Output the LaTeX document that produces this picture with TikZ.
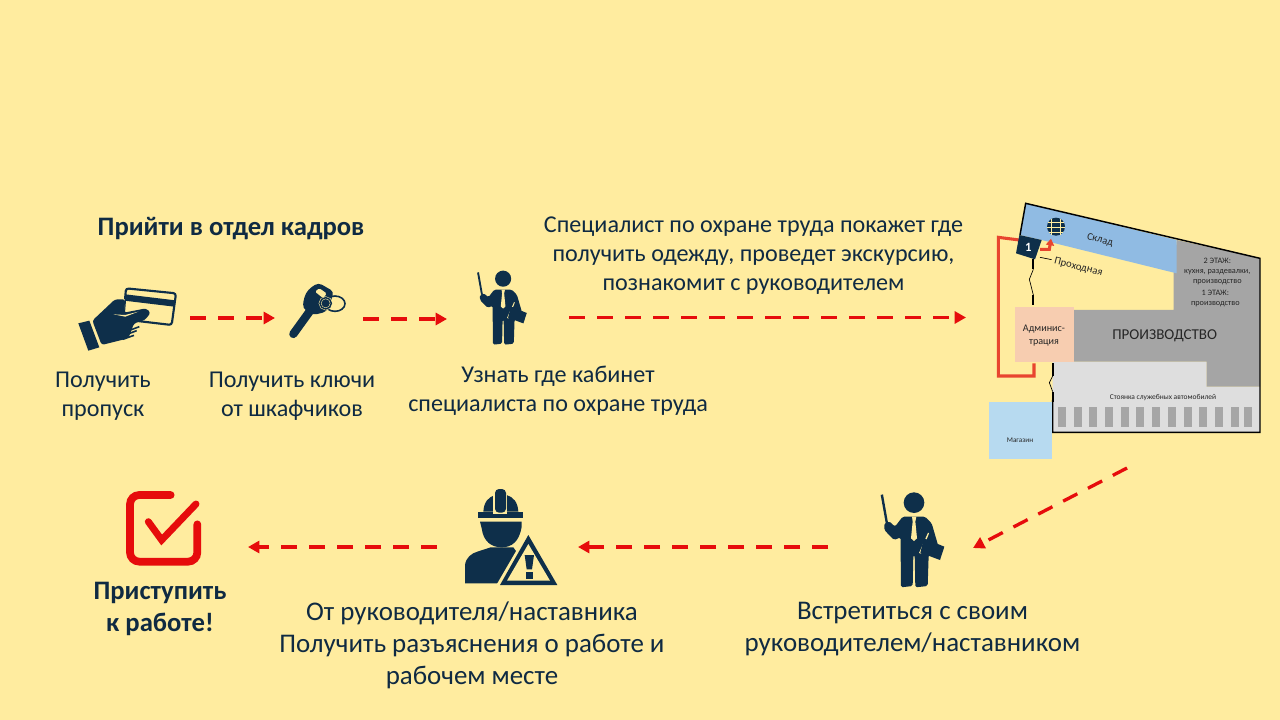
\documentclass[tikz,border=0pt]{standalone}
\usepackage{fontspec}
\setmainfont{Carlito}
\usetikzlibrary{arrows.meta}
\definecolor{bg}{HTML}{FFEC9F}
\definecolor{navy}{HTML}{0E2F4A}
\definecolor{txt}{HTML}{0F2A42}
\definecolor{dashred}{HTML}{E60C0C}
\definecolor{routered}{HTML}{E8452F}
\definecolor{whblue}{HTML}{90BBE3}
\definecolor{shop}{HTML}{B7DAF0}
\definecolor{admin}{HTML}{F7CDB0}
\definecolor{dgrey}{HTML}{A5A5A5}
\definecolor{lgrey}{HTML}{DEDEDE}
\tikzset{
  x=0.75pt,y=-0.75pt,
  flowarrow/.style={draw=dashred,line width=2.5pt,dash pattern=on 12pt off 9pt,-{Triangle[length=8.5pt,width=9pt]}},
  big/.style={text=txt,align=center,inner sep=0pt,font=\fontsize{18.1}{21.75}\selectfont},
  bigger/.style={text=txt,align=center,inner sep=0pt,font=\fontsize{20.2}{24}\selectfont},
  boldhead/.style={text=txt,align=center,inner sep=0pt,font=\fontsize{20}{24}\selectfont\bfseries},
  plantext/.style={text=black!85,align=center,inner sep=0pt},
  person/.pic={
    \fill[navy] (162,68) circle (31);
    \fill[navy] (62,45) -- (69,43) -- (84,128) -- (77,129) -- cycle;
    \fill[navy,rounded corners=1.2pt] (128,110) -- (195,110) -- (215,130) -- (234,195) -- (206,225) -- (203,318) -- (166,322) -- (164,225) -- (160,225) -- (158,318) -- (123,322) -- (122,225) -- (122,172) -- (102,180) -- (73,150) -- (73,130) -- (88,124) -- (105,140) -- cycle;
    \fill[bg] (156,110) -- (169,110) -- (166,125) -- (171,175) -- (162,183) -- (153,175) -- (158,125) -- cycle;
    \fill[bg] (204,158) -- (207,160) -- (183,221) -- (177,219) -- cycle;
    \fill[navy] (192,175) -- (253,200) -- (240,240) -- (181,218) -- cycle;
  },
}
\begin{document}
\begin{tikzpicture}
\useasboundingbox (0,0) rectangle (1280,720);
\fill[bg] (0,0) rectangle (1280,720);

% ---------- hand with card
\begin{scope}[shift={(60,260)},scale=1/3]
  \draw[navy,line width=1.6pt,rounded corners=2pt] (198,85) -- (348,100) -- (335,195) -- (190,178) -- cycle;
  \fill[navy] (196,103) -- (346,121) -- (343,140) -- (193,122) -- cycle;
  \fill[navy] (55,190) -- (88,182) -- (118,262) -- (85,272) -- cycle;
  \fill[bg] (165,118) -- (195,118) -- (190,170) -- (100,190) -- cycle;
  \fill[navy,rounded corners=2pt] (97,182) -- (165,118) -- (196,118) -- (192,158) -- (258,145) -- (272,158) -- (255,180) -- (222,190) -- (205,235) -- (125,255) -- cycle;
  \fill[bg] (160,163) -- (195,165) -- (235,155) -- (196,170) -- cycle;
  \draw[navy,line width=1.2pt] (190,218) -- (238,200) (188,228) -- (230,212) (188,238) -- (222,226);
\end{scope}

% ---------- key
\begin{scope}[shift={(60,260)},scale=1/3]
  \draw[navy,line width=1.2pt] (825,131) ellipse [x radius=30,y radius=23];
  \draw[navy,line width=6.2pt,line cap=round] (752,150) -- (700,222);
  \fill[navy,rounded corners=3pt] (745,88) -- (775,68) -- (822,95) -- (812,125) -- (800,155) -- (760,165) -- (728,145) -- (732,112) -- cycle;
  \fill[bg,rounded corners=1pt] (765,95) -- (778,85) -- (800,100) -- (790,115) -- cycle;
  \draw[bg,line width=1.9pt] (797,130) circle (17);
  \draw[navy,line width=1.1pt] (797,130) circle (17);
\end{scope}

% ---------- persons
\pic at (461,261) [scale=0.26] {person};
\pic at (860,480) [scale=1/3] {person};

% ---------- worker
\begin{scope}[shift={(440,470)},scale=1/3]
  \fill[navy] (75,340) -- (75,285) .. controls (78,262) and (95,250) .. (112,245) -- (152,232) -- (220,232) -- (240,260) -- (190,340) -- cycle;
  \fill[navy] (120,155) -- (245,155) -- (245,170) .. controls (238,215) and (215,232) .. (185,232) .. controls (155,232) and (130,215) .. (125,175) -- cycle;
  \fill[navy] (113,125) -- (250,125) -- (250,143) -- (113,143) -- cycle;
  \fill[navy] (130,125) .. controls (132,95) and (145,82) .. (165,75) -- (200,75) .. controls (220,82) and (233,95) .. (235,125) -- cycle;
  \fill[bg] (160,75) -- (202,75) -- (202,132) -- (160,132) -- cycle;
  \fill[navy,rounded corners=3pt] (165,57) -- (198,57) -- (198,128) -- (165,128) -- cycle;
  \fill[bg] (265,180) -- (368,352) -- (165,352) -- cycle;
  \fill[navy] (265,195) -- (352,345) -- (180,345) -- cycle;
  \fill[bg] (265,222) -- (330,332) -- (201,332) -- cycle;
  \fill[navy] (254,255) -- (282,255) -- (276,298) -- (260,298) -- cycle;
  \fill[navy] (258,307) -- (278,307) -- (278,328) -- (258,328) -- cycle;
\end{scope}

% ---------- check box
\begin{scope}[shift={(110,480)},scale=1/3]
  \draw[dashred,line width=5.8pt,line cap=round,rounded corners=7pt] (182,45) -- (60,45) -- (60,245) -- (262,245) -- (262,133);
  \draw[dashred,line width=5.2pt,line cap=round,line join=miter] (115,125) -- (155,180) -- (258,72);
\end{scope}

% ---------- plan
\begin{scope}[shift={(980,190)},scale=1/3]
  \fill[lgrey] (218,515) -- (680,515) -- (680,590) -- (840,590) -- (840,727) -- (218,727) -- cycle;
  \fill[dgrey] (590,150) -- (840,205) -- (840,590) -- (680,590) -- (680,515) -- (282,515) -- (282,360) -- (581,360) -- (581,250) -- cycle;
  \fill[whblue] (137,40) -- (590,150) -- (590,250) -- (185,150) -- (120,135) -- cycle;
  \draw[black,line width=1.1pt,line join=miter] (120,135) -- (137,40) -- (840,205) -- (840,727) -- (218,727) -- (218,630);
  \fill[admin] (105,350) rectangle (282,515);
  \fill[shop] (27,637) rectangle (215,808);
  \foreach \sx in {235,282,328,375,423,468,517,563,612,658,705,752,792}
    \fill[black!35] (\sx,650) rectangle +(24,60);
  \draw[routered,line width=2.3pt,line join=miter] (118,150) -- (55,142) -- (55,558) -- (162,558) -- (162,520);
  \draw[routered,line width=2.3pt,line join=miter,-{Triangle[length=5pt,width=6pt]}] (180,178) -- (208,178) -- (213,146);
  \fill[navy] (118,135) -- (185,150) -- (165,208) -- (108,190) -- cycle;
  \node[text=white,inner sep=0pt,font=\fontsize{9.5}{10}\bfseries\selectfont] (plan-one) at (145,172) {1};
  \fill[navy] (228,110) circle (27);
  \draw[bg,line width=0.4pt] (205,98) -- (252,98) (202,112) -- (254,112) (206,126) -- (250,126) (215,88) -- (215,134) (241,88) -- (241,134);
  \draw[black,line width=1.7pt] (160,208) -- (160,238);
  \draw[black,line width=.5pt] (160,238) -- (148,268) -- (160,315);
  \draw[black,line width=1.7pt] (160,315) -- (160,346);
  \draw[black,line width=1.7pt] (218,520) -- (218,558);
  \draw[black,line width=.5pt] (218,558) -- (208,578) -- (218,605);
  \draw[black,line width=1.7pt] (218,605) -- (218,637);
  \draw[black,line width=.5pt] (180,202) -- (215,209);
  \node[plantext,rotate=-14,font=\fontsize{7.8}{9}\selectfont] (plan-store) at (360,150) {Склад};
  \node[plantext,rotate=-14,font=\fontsize{8}{9}\selectfont] (plan-gate) at (295,232) {Проходная};
  \node[plantext,font=\fontsize{6.2}{7.4}\selectfont] (plan-f2) at (712,245) {2 ЭТАЖ:\\кухня, раздевалки,\\производство};
  \node[plantext,font=\fontsize{6.2}{7.4}\selectfont] (plan-f1) at (706,326) {1 ЭТАЖ:\\производство};
  \node[plantext,font=\fontsize{7.6}{9.4}\selectfont] (plan-admin) at (192,437) {Админис-\\трация};
  \node[plantext,font=\fontsize{11.3}{13}\selectfont] (plan-prod) at (554,438) {ПРОИЗВОДСТВО};
  \node[plantext,font=\fontsize{5.6}{7}\selectfont] (plan-park) at (549,624) {Стоянка служебных автомобилей};
  \node[plantext,font=\fontsize{5.4}{7}\selectfont] (plan-shop) at (120,752) {Магазин};
\end{scope}

% ---------- texts
\node[boldhead] (head) at (231,229) {Прийти в отдел кадров};
\node[big] (t1) at (103,396) {Получить\\пропуск};
\node[big] (t2) at (292,396) {Получить ключи\\от шкафчиков};
\node[big] (t3) at (558,391) {Узнать где кабинет\\специалиста по охране труда};
\node[big] (t4) at (753.5,256) {Специалист по охране труда покажет где\\получить одежду, проведет экскурсию,\\познакомит с руководителем};
\node[bigger] (t5) at (912.5,629) {Встретиться с своим\\руководителем/наставником};
\node[bigger] (t6) at (472,645) {От руководителя/наставника\\Получить разъяснения о работе и\\рабочем месте};
\node[boldhead] (t7) at (160,609) {Приступить\\к работе!};

% ---------- flow arrows
\coordinate (a1s) at (190,318); \coordinate (a1e) at (275,318);
\coordinate (a2s) at (363,319); \coordinate (a2e) at (447,319);
\coordinate (a3s) at (569,317.5); \coordinate (a3e) at (966,317.5);
\coordinate (a4s) at (1127,468); \coordinate (a4e) at (973,548);
\coordinate (a5s) at (828,547); \coordinate (a5e) at (578,547);
\coordinate (a6s) at (437,547); \coordinate (a6e) at (248,547);
\draw[flowarrow] (a1s) -- (a1e);
\draw[flowarrow] (a2s) -- (a2e);
\draw[flowarrow] (a3s) -- (a3e);
\draw[flowarrow] (a4s) -- (a4e);
\draw[flowarrow] (a5s) -- (a5e);
\draw[flowarrow] (a6s) -- (a6e);
\end{tikzpicture}
\end{document}
